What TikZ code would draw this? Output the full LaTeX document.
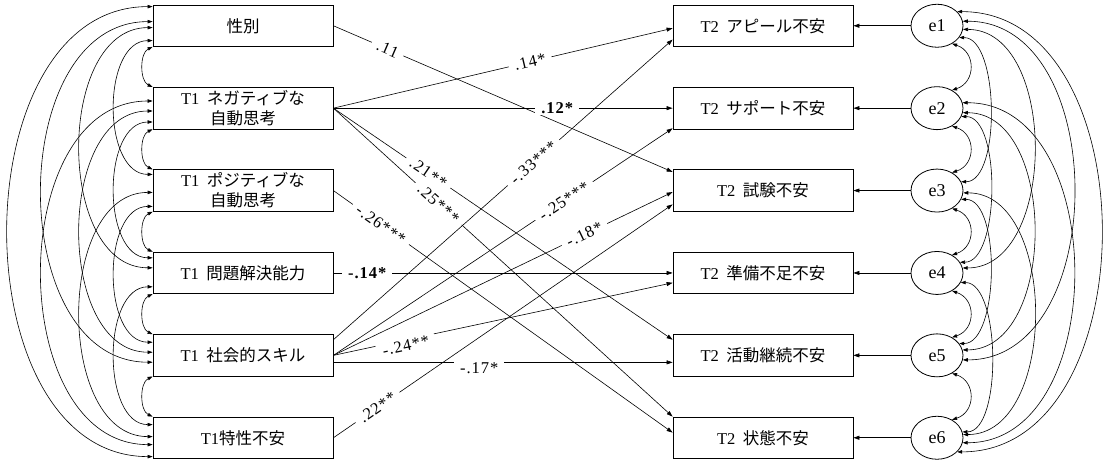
\documentclass[tikz,border=0pt]{standalone}
\usepackage{fontspec}
\setmainfont{Liberation Serif}
\newfontfamily\cjk{Noto Sans CJK JP}
\newfontfamily\labfont[LetterSpace=6]{Liberation Serif}
\usetikzlibrary{arrows.meta,calc,shapes.geometric}
\newcommand\lcov[5]{\draw[cov] ($(#1.north west)+(0,#2)$) .. controls +(-#5,0) and +(-#5,0) .. ($(#3.north west)+(0,#4)$);}
\newcommand\ladj[2]{\draw[cov] (#1.south west) .. controls +(-13,6) and +(-13,-6) .. (#2.north west);}
\newcommand\rcov[5]{\draw[cov] (#1.#2) .. controls +(#5,0) and +(#5,0) .. (#3.#4);}
\newcommand\radj[2]{\draw[cov] (#1.310) .. controls +(24,8) and +(24,-8) .. (#2.50);}
\begin{document}
\begin{tikzpicture}[x=1pt,y=-1pt,
  box/.style={draw,line width=0.8pt,minimum width=180pt,minimum height=41.5pt,inner sep=0pt,align=center,font=\fontsize{16.5}{20}\selectfont},
  err/.style={draw,ellipse,line width=0.8pt,minimum width=52pt,minimum height=43pt,inner sep=0pt,font=\fontsize{18}{20}\selectfont},
  pth/.style={line width=0.6pt,-{Triangle[length=6pt,width=4pt]}},
  cov/.style={line width=0.6pt,{Triangle[length=5pt,width=3.5pt]}-{Triangle[length=5pt,width=3.5pt]}},
  lab/.style={fill=white,inner xsep=6pt,inner ysep=1.5pt,font=\labfont\fontsize{16.5}{18}\selectfont},
  blab/.style={fill=white,inner xsep=6pt,inner ysep=1.5pt,font=\labfont\fontsize{16.5}{18}\selectfont\bfseries}
]
\useasboundingbox (0,0) rectangle (1109,459);
% left boxes
\node[box] (L1) at (243,25.75) {{\cjk 性別}};
\node[box] (L2) at (243,108.15) {T1\hspace{0.45em}{\cjk ネガティブな}\\{\cjk 自動思考}};
\node[box] (L3) at (243,190.55) {T1\hspace{0.45em}{\cjk ポジティブな}\\{\cjk 自動思考}};
\node[box] (L4) at (243,272.95) {T1\hspace{0.45em}{\cjk 問題解決能力}};
\node[box] (L5) at (243,355.35) {T1\hspace{0.45em}{\cjk 社会的スキル}};
\node[box] (L6) at (243,437.75) {T1{\cjk 特性不安}};
% right boxes
\node[box] (R1) at (763,25.75) {T2\hspace{0.45em}{\cjk アピール不安}};
\node[box] (R2) at (763,108.15) {T2\hspace{0.45em}{\cjk サポート不安}};
\node[box] (R3) at (763,190.55) {T2\hspace{0.45em}{\cjk 試験不安}};
\node[box] (R4) at (763,272.95) {T2\hspace{0.45em}{\cjk 準備不足不安}};
\node[box] (R5) at (763,355.35) {T2\hspace{0.45em}{\cjk 活動継続不安}};
\node[box] (R6) at (763,437.75) {T2\hspace{0.45em}{\cjk 状態不安}};
% errors
\node[err] (e1) at (937,25.75) {e1};
\node[err] (e2) at (937,108.15) {e2};
\node[err] (e3) at (937,190.55) {e3};
\node[err] (e4) at (937,272.95) {e4};
\node[err] (e5) at (937,355.35) {e5};
\node[err] (e6) at (937,437.75) {e6};
\foreach \i in {1,...,6} {\draw[pth] (e\i.west) -- (R\i.east);}
% paths
\draw[pth] (L1.east) -- node[lab,pos=0.16,sloped]{.11} ($(R3.north west)+(0,2.5)$);
\draw[pth] (L2.east) -- node[lab,pos=0.58,sloped]{.14*} ($(R1.west)+(0,2.5)$);
\draw[pth] (L2.east) -- node[blab,pos=0.66]{.12*} (R2.west);
\draw[pth] (L2.east) -- node[lab,pos=0.28,sloped]{.21**} ($(R5.north west)+(0,5.5)$);
\draw[pth] (L2.east) -- node[lab,pos=0.31,sloped]{.25***} (R6.north west);
\draw[pth] (L3.east) -- node[lab,pos=0.14,sloped]{-.26***} ($(R6.north west)+(0,16)$);
\draw[pth] (L4.east) -- node[blab,pos=0.10]{-.14*} (R4.west);
\draw[pth] ($(L5.north east)+(0,5.5)$) -- node[lab,pos=0.59,sloped]{-.33***} ($(R1.north west)+(0,35)$);
\draw[pth] (L5.east) -- node[lab,pos=0.68,sloped]{-.25***} ($(R2.south west)+(0,-1)$);
\draw[pth] (L5.east) -- node[lab,pos=0.74,sloped]{-.18*} ($(R3.west)+(0,1.5)$);
\draw[pth] ($(L5.east)+(0,7)$) -- node[lab,pos=0.43,yshift=-6pt]{-.17*} ($(R5.west)+(0,7)$);
\draw[pth] (L5.east) -- node[lab,pos=0.21,sloped,yshift=-6pt]{-.24**} ($(R4.north west)+(0,31)$);
\draw[pth] (L6.east) -- node[lab,pos=0.13,sloped]{.22**} ($(R3.north west)+(0,35)$);
% left covariances
\ladj{L1}{L2}\ladj{L2}{L3}\ladj{L3}{L4}\ladj{L4}{L5}\ladj{L5}{L6}
\lcov{L1}{36}{L3}{5}{51}
\lcov{L2}{35}{L4}{6}{51}
\lcov{L3}{37}{L5}{8}{51}
\lcov{L4}{35}{L6}{8}{51}
\lcov{L1}{23}{L4}{16}{97}
\lcov{L2}{24}{L5}{18}{97}
\lcov{L3}{23}{L6}{20}{97}
\lcov{L1}{17}{L5}{28}{148}
\lcov{L2}{14}{L6}{28}{148}
\lcov{L1}{2}{L6}{40}{193}
% right covariances
\radj{e1}{e2}\radj{e2}{e3}\radj{e3}{e4}\radj{e4}{e5}\radj{e5}{e6}
\rcov{e1}{332}{e3}{20}{40}
\rcov{e2}{341}{e4}{25}{40}
\rcov{e3}{340}{e5}{28}{40}
\rcov{e4}{338}{e6}{13}{40}
\rcov{e1}{352}{e4}{11}{95}
\rcov{e2}{350}{e5}{12}{95}
\rcov{e3}{355}{e6}{7}{95}
\rcov{e1}{10}{e5}{350}{148}
\rcov{e2}{12}{e6}{349}{148}
\rcov{e1}{35}{e6}{325}{192}
\end{tikzpicture}
\end{document}
